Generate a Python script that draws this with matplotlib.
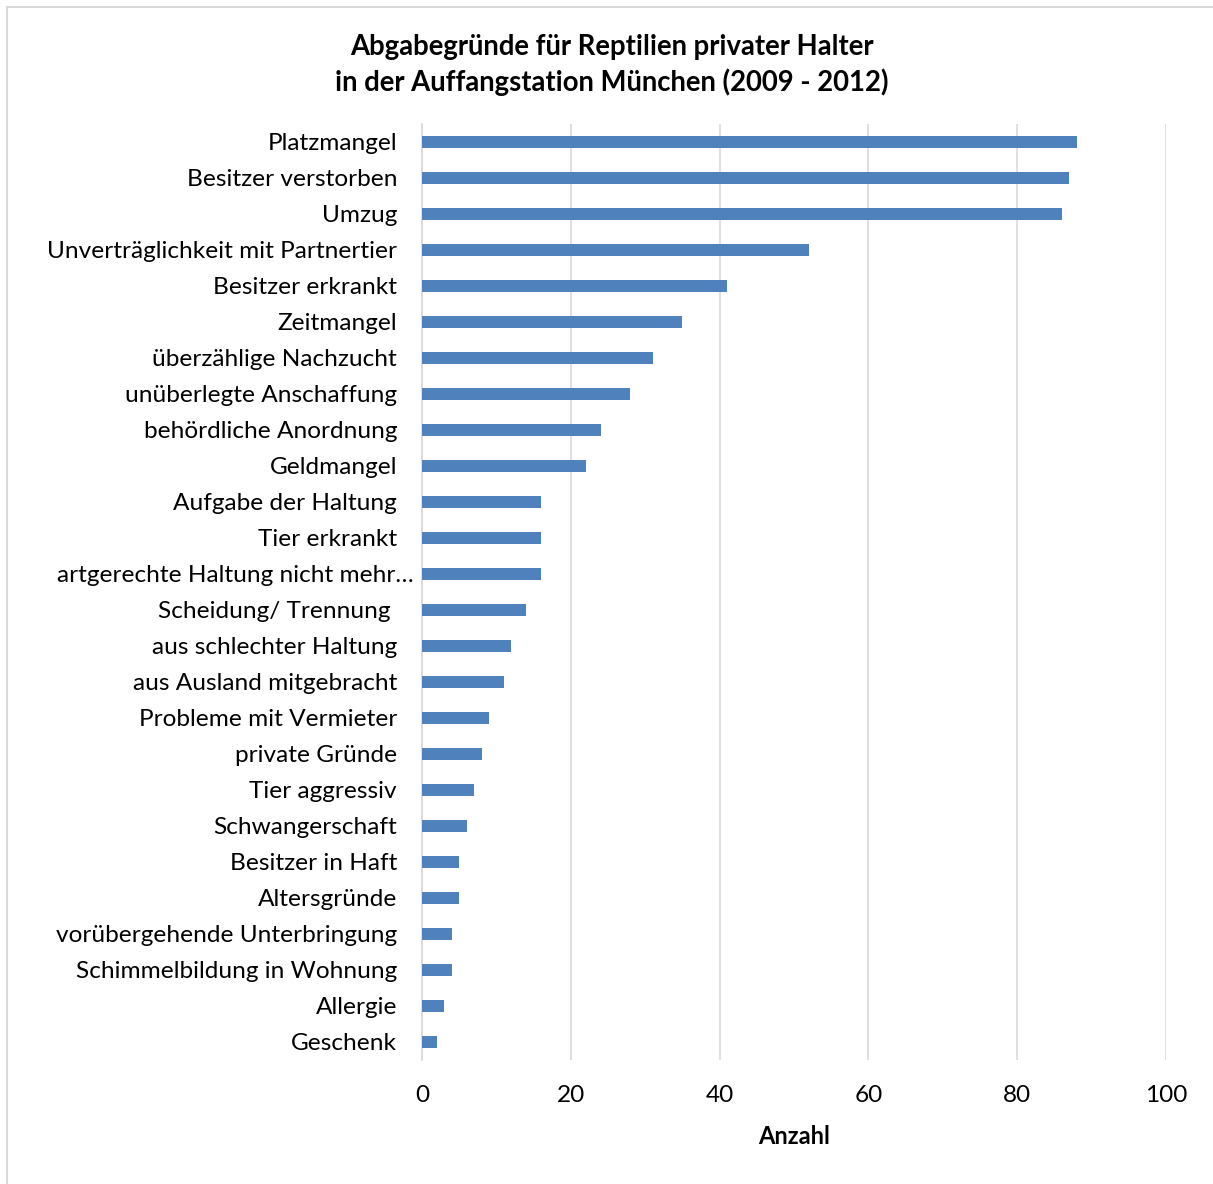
import matplotlib
matplotlib.use("Agg")
import matplotlib.pyplot as plt
from matplotlib.patches import Rectangle
from matplotlib.transforms import ScaledTranslation

categories = [
    "Platzmangel", "Besitzer verstorben", "Umzug",
    "Unverträglichkeit mit Partnertier", "Besitzer erkrankt", "Zeitmangel",
    "überzählige Nachzucht", "unüberlegte Anschaffung", "behördliche Anordnung",
    "Geldmangel", "Aufgabe der Haltung", "Tier erkrankt",
    "artgerechte Haltung nicht mehr…", "Scheidung/ Trennung ",
    "aus schlechter Haltung", "aus Ausland mitgebracht",
    "Probleme mit Vermieter", "private Gründe", "Tier aggressiv",
    "Schwangerschaft", "Besitzer in Haft", "Altersgründe",
    "vorübergehende Unterbringung", "Schimmelbildung in Wohnung",
    "Allergie", "Geschenk",
]
counts = [88, 87, 86, 52, 41, 35, 31, 28, 24, 22, 16, 16, 16, 14, 12, 11,
          9, 8, 7, 6, 5, 5, 4, 4, 3, 2]
x_ticks = [0, 20, 40, 60, 80, 100]

plt.rcParams["font.family"] = ["Lato", "DejaVu Sans"]

W, H = 1213, 1184
fig = plt.figure(figsize=(W / 100, H / 100), dpi=100)
ax = fig.add_axes([422 / W, 1 - 1060 / H, (1166 - 422) / W, (1060 - 124) / H])

ypos = list(range(len(categories)))
ax.barh(ypos, counts, height=0.33, color="#4F81BD", zorder=3)
ax.set_ylim(len(categories) - 0.5, -0.5)
ax.set_xlim(0, 100)
ax.set_xticks(x_ticks)
ax.set_yticks(ypos)
ax.set_yticklabels(categories, fontsize=17.6)
ax.tick_params(axis="x", labelsize=17.6, length=0, pad=18)
ax.tick_params(axis="y", length=0, pad=18)
ax.grid(axis="x", color="#D9D9D9", linewidth=1.2, zorder=0)
for s in ["top", "right", "bottom"]:
    ax.spines[s].set_visible(False)
ax.spines["left"].set_color("#D9D9D9")
ax.spines["left"].set_linewidth(1.2)
ax.set_xlabel("Anzahl", fontsize=17, fontweight="bold", labelpad=14)

# the truncated label runs past the usual label edge, close to the axis
for lbl in ax.get_yticklabels():
    if lbl.get_text().endswith("…"):
        lbl.set_transform(lbl.get_transform() + ScaledTranslation(0.17, 0, fig.dpi_scale_trans))

fig.text(612 / W, 1 - 65 / H,
         "Abgabegründe für Reptilien privater Halter\nin der Auffangstation München (2009 - 2012)",
         ha="center", va="center", fontsize=19.8, fontweight="bold", linespacing=1.4)

fig.patches.append(Rectangle((7 / W, -0.01), 1.02, 1 - 7 / H + 0.01,
                             transform=fig.transFigure, fill=False,
                             edgecolor="#D9D9D9", linewidth=1.5))

fig.savefig("out.png", dpi=100)
